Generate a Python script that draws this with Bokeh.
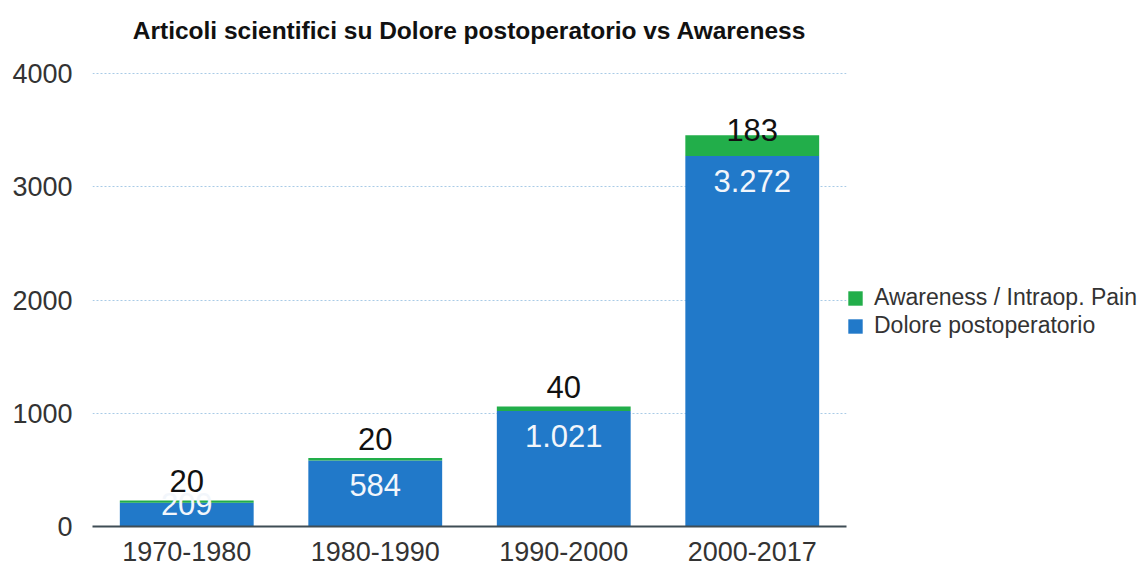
import numpy as np
from bokeh.plotting import figure
from bokeh.models import (ColumnDataSource, Range1d, FactorRange, SingleIntervalTicker,
                          Legend, LegendItem, LabelSet, Title)
from bokeh.core.properties import value
from bokeh.embed import file_html
from bokeh.resources import INLINE

# ---- data ----
periods = ["1970-1980", "1980-1990", "1990-2000", "2000-2017"]
dolore = [209, 584, 1021, 3272]
awareness = [20, 20, 40, 183]
dolore_labels = ["209", "584", "1.021", "3.272"]
awareness_labels = ["20", "20", "40", "183"]
title_text = "Articoli scientifici su Dolore postoperatorio vs Awareness"

FONT = "Liberation Sans"
BLUE = "#2179c9"
GREEN = "#22ae4a"

blue_arr = np.array(dolore, dtype=float)
green_arr = np.array(awareness, dtype=float)
total = blue_arr + green_arr

src = ColumnDataSource(dict(
    x=periods,
    dolore=blue_arr,
    awareness=green_arr,
    total=total,
    dl=dolore_labels,
    al=awareness_labels,
    dl_y=np.maximum(blue_arr - 220, 200),
    al_y=np.minimum(total + 170, 3500),
))

p = figure(frame_width=754, frame_height=454, x_range=FactorRange(*periods, range_padding=0),
           y_range=Range1d(0, 4010), output_backend="svg", toolbar_location=None,
           min_border_left=92, min_border_right=0, min_border_top=72, min_border_bottom=40)
p.x_range.factor_padding = 0
p.outline_line_color = None
p.background_fill_color = "white"

# spacer (closest to frame) then the real title above it
spacer = Title(text=" ", text_font=FONT, text_font_size="21px", standoff=0)
p.add_layout(spacer, "above")
main_title = Title(text=title_text, text_font=FONT, text_font_style="bold",
                   text_font_size="24.5px", text_color="#111111", align="center",
                   standoff=8)
p.add_layout(main_title, "above")

vb = p.vbar(x="x", bottom=0, top="dolore", width=0.71, source=src,
            fill_color=BLUE, line_color=None)
vg = p.vbar(x="x", bottom="dolore", top="total", width=0.71, source=src,
            fill_color=GREEN, line_color=None)

# labels
lab_b = LabelSet(x="x", y="dl_y", text="dl", source=src, text_align="center",
                 text_baseline="middle", text_color="#f2f6fb", text_font=value(FONT),
                 text_font_size="31px")
lab_g = LabelSet(x="x", y="al_y", text="al", source=src, text_align="center",
                 text_baseline="middle", text_color="#111111", text_font=value(FONT),
                 text_font_size="31px")
p.add_layout(lab_b)
p.add_layout(lab_g)

# axes
p.yaxis.ticker = SingleIntervalTicker(interval=1000)
p.yaxis.axis_line_color = None
p.yaxis.major_tick_line_color = None
p.yaxis.minor_tick_line_color = None
p.yaxis.major_label_text_font = FONT
p.yaxis.major_label_text_font_size = "27px"
p.yaxis.major_label_text_color = "#333333"
p.yaxis.major_label_standoff = 14

p.xaxis.axis_line_color = "#3f4d55"
p.xaxis.axis_line_width = 2
p.xaxis.major_tick_line_color = None
p.xaxis.minor_tick_line_color = None
p.xaxis.major_label_text_font = FONT
p.xaxis.major_label_text_font_size = "27px"
p.xaxis.major_label_text_color = "#333333"
p.xaxis.major_label_standoff = 9

p.xgrid.grid_line_color = None
p.ygrid.grid_line_color = "#a9cbe6"
p.ygrid.grid_line_dash = "2 2"
p.ygrid.grid_line_width = 1

legend = Legend(items=[
    LegendItem(label="Awareness / Intraop. Pain", renderers=[vg]),
    LegendItem(label="Dolore postoperatorio", renderers=[vb]),
], location=(0, 187), orientation="vertical")
legend.padding = 0
legend.margin = 0
legend.spacing = 1
legend.border_line_color = None
legend.background_fill_alpha = 0
legend.glyph_width = 18
legend.glyph_height = 18
legend.label_standoff = 10
legend.label_text_font = FONT
legend.label_text_font_size = "23px"
legend.label_text_color = "#333333"
legend.label_height = 24
p.add_layout(legend, "right")

open("out.html", "w").write(file_html(p, INLINE))
